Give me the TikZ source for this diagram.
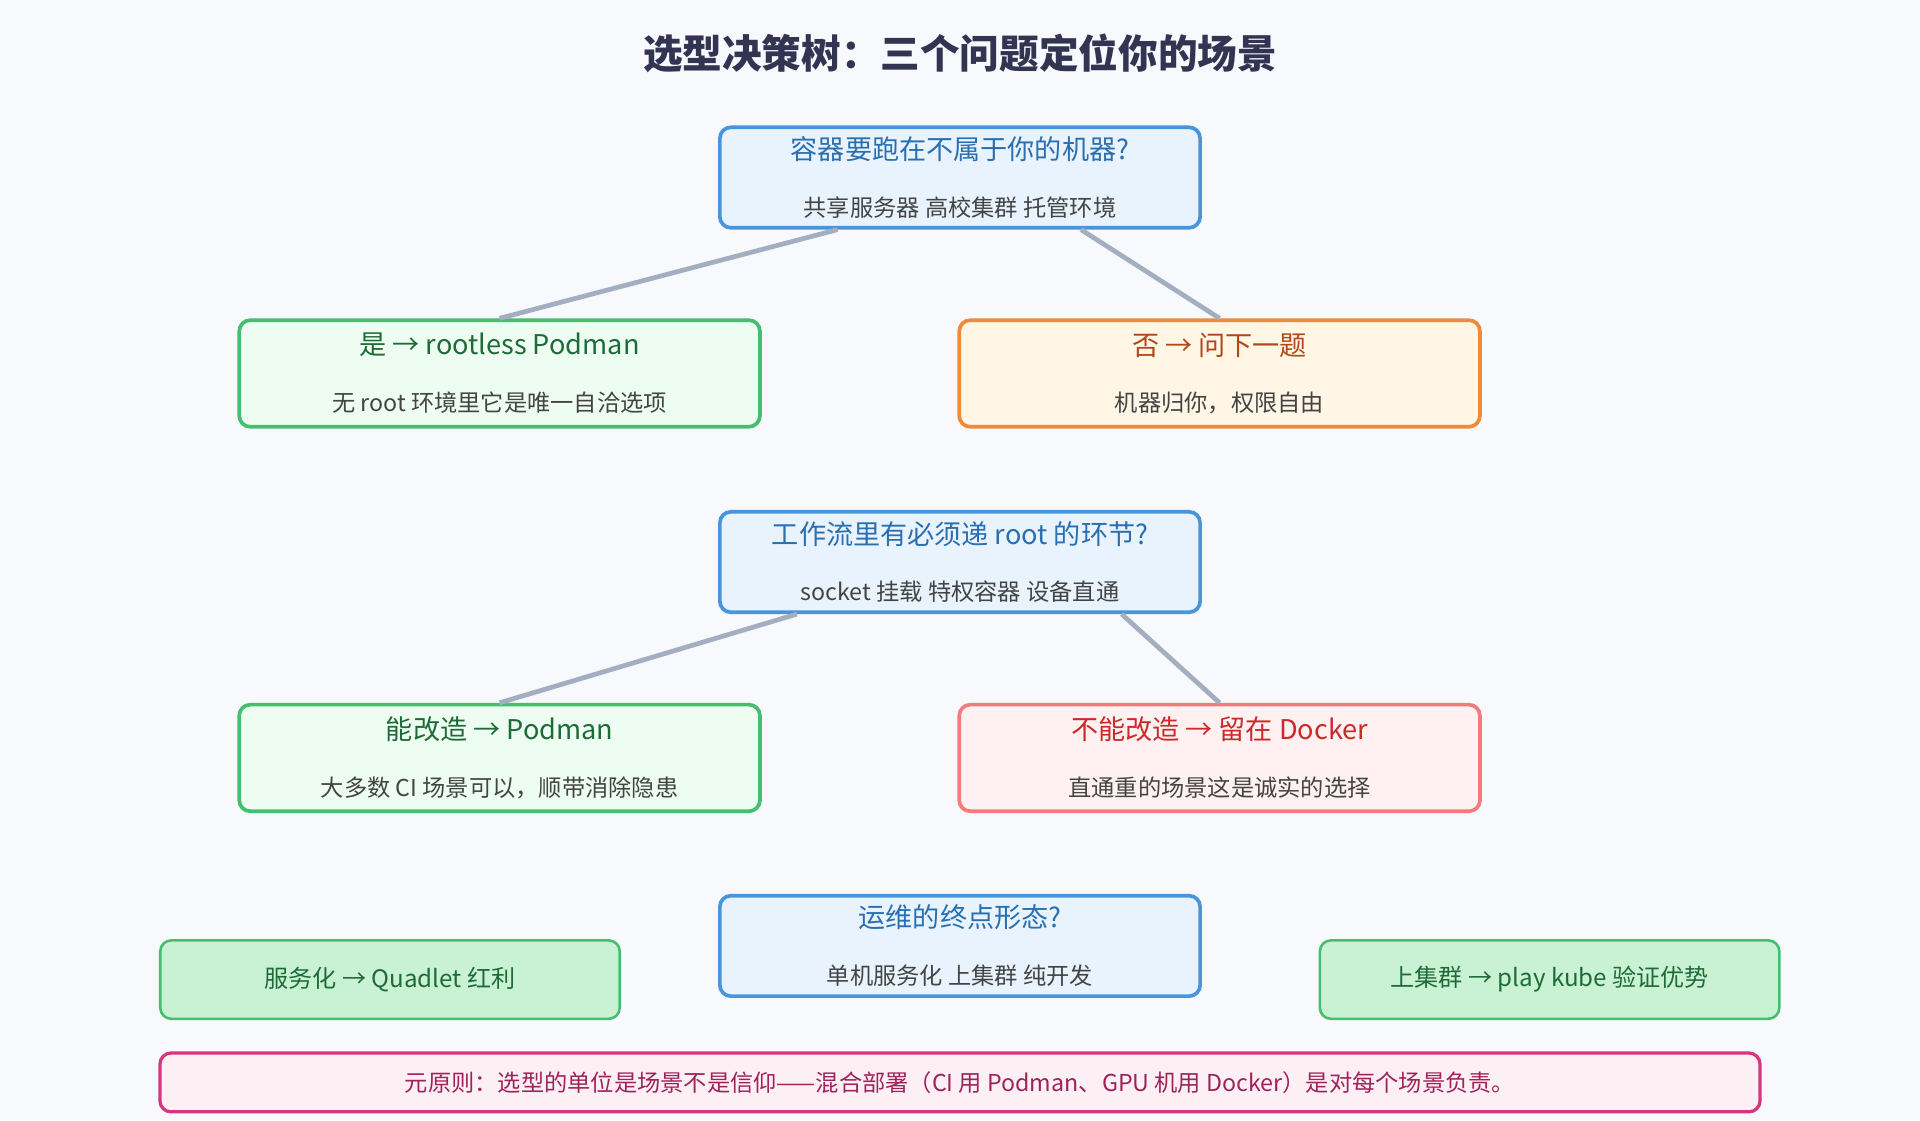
\documentclass[tikz,border=0pt]{standalone}
\usepackage{fontspec}
\setmainfont{Noto Sans CJK SC}
\usepackage{tikz}
\usetikzlibrary{positioning,calc,backgrounds}
\definecolor{bgc}{HTML}{F7F9FC}
\definecolor{qblue}{HTML}{4A94DA}
\definecolor{qfill}{HTML}{E8F3FD}
\definecolor{qtext}{HTML}{2A6FB0}
\definecolor{gborder}{HTML}{45BE70}
\definecolor{gfill}{HTML}{EDFDF1}
\definecolor{gtext}{HTML}{1E6B38}
\definecolor{oborder}{HTML}{EE8A3A}
\definecolor{ofill}{HTML}{FFF6E5}
\definecolor{otext}{HTML}{B0481A}
\definecolor{rborder}{HTML}{F27C7C}
\definecolor{rfill}{HTML}{FFF1F1}
\definecolor{rtext}{HTML}{CC2A2A}
\definecolor{sfill}{HTML}{C9F2D4}
\definecolor{pborder}{HTML}{D6357F}
\definecolor{pfill}{HTML}{FDF0F5}
\definecolor{ptext}{HTML}{A0225A}
\definecolor{subtext}{HTML}{444444}
\definecolor{edgec}{HTML}{A3AFC0}
\newcommand{\twoline}[3]{{\color{#1}\fontsize{6.3}{7}\selectfont #2}\\[1.2pt]{\color{subtext}\fontsize{5.4}{6}\selectfont #3}}

\begin{document}
\begin{tikzpicture}[
    x=0.01cm, y=-0.01cm,
    box/.style={rectangle, draw, line width=0.85pt, rounded corners=0.09cm, align=center, inner sep=0pt},
    question/.style={box, draw=qblue, fill=qfill, minimum width=3.92cm, minimum height=0.82cm},
    answer/.style={box, minimum width=4.25cm, minimum height=0.87cm},
    yesbox/.style={answer, draw=gborder, fill=gfill},
    nobox/.style={answer, draw=oborder, fill=ofill},
    stopbox/.style={answer, draw=rborder, fill=rfill},
    sidebox/.style={box, draw=gborder, fill=sfill, line width=0.6pt, minimum width=3.75cm, minimum height=0.64cm, text=gtext, font=\fontsize{5.6}{6}\selectfont},
    link/.style={draw=edgec, line width=1.1pt}
]
    \fill[bgc] (0,0) rectangle (1568,915);
    \useasboundingbox (0,0) rectangle (1568,915);

    % title
    \node[font=\fontsize{9.2}{10}\selectfont\bfseries, text=black!80!blue!60!gray] (title) at (784,44) {选型决策树：三个问题定位你的场景};

    % question 1
    \node[question] (q1) at (784,145) {\twoline{qtext}{容器要跑在不属于你的机器?}{共享服务器 高校集群 托管环境}};
    \node[yesbox] (yes1) at (408,305) {\twoline{gtext}{是 → rootless Podman}{无 root 环境里它是唯一自洽选项}};
    \node[nobox] (no1) at (996,305) {\twoline{otext}{否 → 问下一题}{机器归你，权限自由}};

    % question 2
    \node[question] (q2) at (784,459) {\twoline{qtext}{工作流里有必须递 root 的环节?}{socket 挂载 特权容器 设备直通}};
    \node[yesbox] (yes2) at (408,619) {\twoline{gtext}{能改造 → Podman}{大多数 CI 场景可以，顺带消除隐患}};
    \node[stopbox] (no2) at (996,619) {\twoline{rtext}{不能改造 → 留在 Docker}{直通重的场景这是诚实的选择}};

    % question 3
    \node[sidebox] (svc) at (318.5,800) {服务化 → Quadlet 红利};
    \node[sidebox] (kube) at (1265.5,800) {上集群 → play kube 验证优势};
    \begin{scope}[on background layer]
        \draw[link] (svc.east) -- (652,813) coordinate (q3l);
        \draw[link] (kube.west) -- (915,813) coordinate (q3r);
    \end{scope}
    \node[question] (q3) at (784,772.5) {\twoline{qtext}{运维的终点形态?}{单机服务化 上集群 纯开发}};

    % rule
    \node[box, draw=pborder, fill=pfill, line width=0.75pt, minimum width=13.06cm, minimum height=0.48cm, text=ptext, font=\fontsize{5.4}{6}\selectfont] (rule) at (784,884) {元原则：选型的单位是场景不是信仰——混合部署（CI 用 Podman、GPU 机用 Docker）是对每个场景负责。};

    % connections
    \draw[link] ($(q1.south west)!0.247!(q1.south east)$) -- (yes1.north);
    \draw[link] ($(q1.south west)!0.75!(q1.south east)$) -- (no1.north);
    \draw[link] ($(q2.south west)!0.163!(q2.south east)$) -- (yes2.north);
    \draw[link] ($(q2.south west)!0.834!(q2.south east)$) -- (no2.north);
\end{tikzpicture}
\end{document}
